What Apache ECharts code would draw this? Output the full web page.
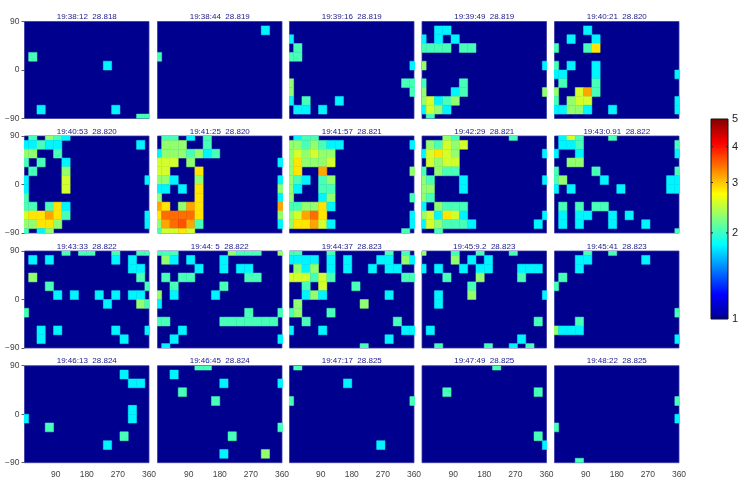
<!DOCTYPE html>
<html><head><meta charset="utf-8">
<style>html,body{margin:0;padding:0;background:#fff}#c{width:742px;height:483px}</style>
<script src="https://cdn.jsdelivr.net/npm/echarts@6/dist/echarts.min.js"></script>
</head><body><div id="c"></div>
<script>
// Cell centres of the map grid
const lons = [0,24,48,72,96,120,144,168,192,216,240,264,288,312,336,360];
const lats = [90,73.6,57.3,40.9,24.5,8.2,-8.2,-24.5,-40.9,-57.3,-73.6,-90];
// Read-off levels (colour bar value)
const c=1.8, m=2.05, g=2.3, l=2.55, y=2.85, f=3.15, o=3.45;
const titles = [
"19:38:12  28.818","19:38:44  28.819","19:39:16  28.819","19:39:49  28.819","19:40:21  28.820",
"19:40:53  28.820","19:41:25  28.820","19:41:57  28.821","19:42:29  28.821","19:43:0.91  28.822",
"19:43:33  28.822","19:44: 5  28.822","19:44:37  28.823","19:45:9.2  28.823","19:45:41  28.823",
"19:46:13  28.824","19:46:45  28.824","19:47:17  28.825","19:47:49  28.825","19:48:22  28.825"];
const xTicks = [90,180,270,360];
const yTicks = [-90,0,90];
const barTicks = [1,2,3,4,5];
// [lon index, lat index, value]
const p01=[[1,4,m],[10,5,c],[2,10,c],[11,10,c],[14,11,m],[15,11,m]];
const p02=[[13,1,c],[0,4,m]];
const p03=[[0,2,c],[1,3,m],[0,4,m],[1,4,m],[15,5,c],[0,7,g],[14,7,m],[15,7,m],[0,8,g],[15,8,m],[0,9,c],[2,9,m],[6,9,c],[1,10,c],[2,10,c],[4,10,c]];
const p04=[[2,1,c],[3,1,c],[0,2,c],[2,2,c],[4,2,c],[0,3,m],[1,3,m],[2,3,m],[3,3,m],[5,3,m],[6,3,m],[0,5,g],[15,5,c],[0,7,m],[5,7,m],[0,8,g],[4,8,c],[5,8,m],[15,8,g],[0,9,g],[1,9,l],[2,9,c],[3,9,m],[4,9,g],[0,10,c],[1,10,l],[2,10,g],[3,10,c],[1,11,m]];
const p05=[[4,1,c],[2,2,c],[5,2,c],[0,3,m],[4,3,m],[5,3,y],[0,5,m],[2,5,c],[5,5,c],[0,6,c],[1,6,c],[5,6,c],[15,6,c],[1,7,m],[5,7,m],[0,8,g],[3,8,l],[4,8,f],[5,8,m],[0,9,m],[2,9,g],[3,9,l],[4,9,l],[15,9,c],[0,10,c],[1,10,c],[2,10,g],[3,10,g],[4,10,c],[7,10,c],[15,10,c]];
const p06=[[1,0,m],[3,0,g],[4,0,m],[5,0,c],[0,1,c],[1,1,c],[2,1,m],[3,1,c],[4,1,c],[14,1,c],[0,2,g],[1,2,g],[4,2,m],[0,3,m],[2,3,m],[5,3,c],[1,4,m],[5,4,g],[0,5,c],[5,5,l],[15,5,c],[0,6,c],[5,6,l],[0,7,m],[0,8,m],[1,8,m],[3,8,m],[4,8,y],[5,8,c],[0,9,l],[1,9,y],[2,9,y],[3,9,f],[4,9,y],[5,9,m],[15,9,c],[0,10,g],[1,10,g],[2,10,y],[3,10,y],[4,10,g],[15,10,c],[0,11,m],[2,11,c],[3,11,g]];
const p07=[[1,0,m],[2,0,m],[4,0,c],[6,0,m],[1,1,g],[2,1,g],[3,1,g],[6,1,m],[0,2,c],[1,2,g],[2,2,g],[3,2,g],[4,2,m],[5,2,g],[6,2,c],[7,2,m],[0,3,l],[1,3,l],[2,3,l],[4,3,g],[15,3,c],[0,4,l],[1,4,l],[5,4,y],[0,5,g],[1,5,g],[2,5,c],[5,5,g],[15,5,c],[0,6,c],[1,6,c],[3,6,c],[5,6,y],[15,6,g],[0,7,g],[5,7,y],[15,7,c],[0,8,f],[1,8,y],[3,8,g],[4,8,f],[5,8,y],[15,8,f],[0,9,y],[1,9,o],[2,9,o],[3,9,o],[4,9,o],[5,9,y],[15,9,g],[0,10,g],[1,10,f],[2,10,o],[3,10,3.6],[4,10,f],[5,10,m],[15,10,c],[0,11,m],[1,11,l],[2,11,l],[3,11,y],[4,11,l]];
const p08=[[1,0,c],[2,0,m],[3,0,m],[0,1,g],[1,1,g],[2,1,m],[3,1,g],[4,1,m],[5,1,c],[6,1,c],[15,1,c],[0,2,g],[1,2,l],[2,2,g],[3,2,l],[4,2,g],[5,2,g],[0,3,g],[1,3,y],[2,3,g],[3,3,g],[4,3,g],[5,3,l],[0,4,g],[1,4,y],[4,4,f],[15,4,g],[0,5,g],[1,5,m],[2,5,c],[4,5,m],[5,5,g],[0,6,g],[1,6,c],[4,6,m],[5,6,m],[0,7,g],[4,7,c],[5,7,g],[15,7,m],[0,8,m],[1,8,m],[2,8,g],[3,8,g],[4,8,y],[5,8,c],[0,9,g],[1,9,l],[2,9,f],[3,9,o],[4,9,y],[15,9,c],[0,10,g],[1,10,y],[2,10,y],[3,10,f],[4,10,l],[5,10,c],[15,10,c],[14,11,m]];
const p09=[[3,0,g],[4,0,m],[11,0,m],[1,1,g],[2,1,m],[3,1,l],[4,1,g],[5,1,l],[0,2,c],[1,2,l],[2,2,y],[3,2,l],[4,2,g],[15,2,c],[1,3,l],[2,3,g],[3,3,l],[4,3,l],[0,4,m],[2,4,g],[3,4,m],[4,4,m],[0,5,g],[1,5,m],[5,5,c],[15,5,c],[0,6,g],[1,6,g],[5,6,c],[0,7,g],[1,7,m],[0,8,c],[2,8,g],[3,8,m],[4,8,m],[5,8,m],[0,9,g],[1,9,l],[2,9,c],[3,9,y],[4,9,l],[5,9,c],[15,9,c],[0,10,c],[1,10,l],[2,10,g],[3,10,m],[4,10,m],[5,10,m],[6,10,c],[14,10,c],[2,11,m]];
const p10=[[1,0,c],[2,0,l],[3,0,m],[7,0,m],[1,1,c],[2,1,c],[3,1,m],[15,1,m],[0,2,c],[3,2,c],[15,2,c],[2,3,g],[3,3,g],[0,4,m],[5,4,m],[15,4,m],[0,5,m],[1,5,g],[6,5,c],[14,5,c],[15,5,c],[0,6,c],[2,6,c],[8,6,c],[14,6,c],[15,6,c],[1,8,m],[3,8,m],[5,8,m],[6,8,m],[1,9,c],[3,9,c],[4,9,c],[7,9,c],[9,9,c],[1,10,c],[3,10,c],[7,10,c],[11,10,c],[15,11,m]];
const p11=[[5,0,m],[7,0,m],[8,0,m],[11,0,m],[14,0,m],[15,0,m],[1,1,c],[3,1,c],[11,1,c],[13,1,c],[13,2,c],[14,2,c],[1,3,g],[14,3,m],[3,4,m],[15,4,m],[4,5,c],[6,5,c],[9,5,c],[11,5,c],[13,5,c],[14,5,c],[10,6,c],[14,6,g],[15,6,m],[0,7,m],[2,9,c],[4,9,c],[11,9,c],[15,9,c],[2,10,c],[12,10,c]];
const p12=[[0,0,m],[1,0,m],[2,0,m],[9,0,g],[10,0,m],[11,0,m],[12,0,m],[15,0,g],[1,1,g],[2,1,c],[4,1,c],[8,1,c],[5,2,c],[8,2,c],[10,2,c],[11,2,c],[1,3,m],[3,3,m],[4,3,m],[11,3,m],[12,3,m],[2,4,m],[8,4,m],[0,5,g],[2,5,c],[7,5,c],[0,6,c],[11,7,m],[15,7,m],[0,8,m],[1,8,m],[8,8,m],[9,8,m],[10,8,m],[11,8,m],[12,8,m],[13,8,m],[14,8,m],[3,9,c],[2,10,c],[15,10,c],[1,11,c]];
const p13=[[0,0,m],[1,0,m],[5,0,m],[12,0,m],[14,0,m],[0,1,c],[1,1,c],[2,1,c],[3,1,c],[5,1,c],[7,1,c],[11,1,c],[12,1,c],[14,1,g],[15,1,c],[1,2,g],[2,2,c],[3,2,g],[5,2,c],[7,2,c],[10,2,c],[12,2,c],[13,2,c],[0,3,l],[1,3,l],[2,3,l],[3,3,m],[4,3,l],[5,3,m],[14,3,m],[15,3,m],[2,4,m],[4,4,l],[8,4,m],[2,5,c],[3,5,g],[4,5,c],[12,5,c],[1,6,g],[9,6,g],[0,7,m],[1,7,g],[5,7,m],[2,8,m],[13,8,m],[0,9,c],[4,9,c],[14,9,c],[15,9,c],[12,10,c],[9,11,m]];
const p14=[[0,0,g],[4,0,m],[7,0,m],[11,0,m],[4,1,g],[6,1,c],[8,1,c],[0,2,c],[2,2,c],[5,2,c],[7,2,c],[8,2,c],[12,2,c],[13,2,c],[14,2,c],[3,3,m],[7,3,g],[12,3,m],[6,4,m],[2,5,c],[6,5,g],[15,5,c],[2,6,c],[14,8,m],[1,9,c],[12,10,c],[2,11,m],[8,11,m],[11,11,c],[13,11,m]];
const p15=[[4,0,m],[7,0,m],[3,1,c],[4,1,c],[11,1,c],[3,2,c],[1,3,m],[0,4,m],[15,7,m],[3,8,m],[0,9,g],[1,9,c],[2,9,c],[3,9,c],[15,10,c]];
const p16=[[12,1,c],[13,2,c],[14,2,c],[13,5,c],[13,6,c],[0,6,c],[3,7,m],[12,8,m],[10,9,c]];
const p17=[[5,0,m],[6,0,m],[2,1,c],[8,2,c],[15,2,c],[3,3,m],[7,4,m],[15,7,m],[9,8,m],[8,10,c],[13,10,g]];
const p18=[[1,0,m],[7,2,c],[0,4,m],[15,4,m],[11,9,c]];
const p19=[[9,0,m],[3,3,m],[14,3,m],[14,8,m],[15,9,c]];
const p20=[[15,4,m],[15,6,c],[0,7,m],[3,11,m]];
const panels=[p01,p02,p03,p04,p05,p06,p07,p08,p09,p10,p11,p12,p13,p14,p15,p16,p17,p18,p19,p20];

// Layout (pixels)
const lefts=[24.5,157.5,289.5,422,554.5], tops=[21.5,136,251,365.7], W=124.5, H=97;
const jetStops=[[0,'#00008f'],[0.125,'#0000ff'],[0.375,'#00ffff'],[0.625,'#ffff00'],[0.875,'#ff0000'],[1,'#800000']];
function hex(h){return [1,3,5].map(i=>parseInt(h.substr(i,2),16));}
function jet(v){
  const t=Math.log(v)/Math.log(5);
  for(let i=1;i<jetStops.length;i++){
    if(t<=jetStops[i][0]){
      const a=hex(jetStops[i-1][1]),b=hex(jetStops[i][1]),k=(t-jetStops[i-1][0])/(jetStops[i][0]-jetStops[i-1][0]);
      return 'rgb('+a.map((x,j)=>Math.round(x+(b[j]-x)*k)).join(',')+')';
    }
  }
  return jetStops[jetStops.length-1][1];
}
const font='"Liberation Sans",Arial,sans-serif', lonStep=lons[1]-lons[0], latStep=lats[0]-lats[1];
const grid=[],xAxis=[],yAxis=[],series=[],title=[];
panels.forEach((p,i)=>{
  const col=i%5,row=Math.floor(i/5);
  grid.push({left:lefts[col],top:tops[row],width:W,height:H,show:true,backgroundColor:'#00008f',borderColor:'#3a3aa0',borderWidth:0.8});
  title.push({text:titles[i],left:lefts[col]+W/2,top:tops[row]-8.5,textAlign:'center',padding:0,textStyle:{color:'#1a1a8c',fontSize:8,fontWeight:'normal',fontFamily:font}});
  xAxis.push({gridIndex:i,type:'value',min:0,max:360,interval:90,axisLine:{show:false},axisTick:{show:false},splitLine:{show:false},
    axisLabel:{show:row===3,fontSize:8.5,color:'#444',fontFamily:font,margin:7,customValues:xTicks}});
  yAxis.push({gridIndex:i,type:'value',min:-90,max:90,interval:90,axisLine:{show:false},splitLine:{show:false},
    axisTick:{show:col===0,length:3,lineStyle:{color:'#333',width:0.8},customValues:yTicks},
    axisLabel:{show:col===0,fontSize:8.5,color:'#444',fontFamily:font,margin:5,customValues:yTicks,formatter:v=>v<0?'\u2212'+(-v):''+v}});
  series.push({type:'custom',coordinateSystem:'cartesian2d',xAxisIndex:i,yAxisIndex:i,clip:true,silent:true,
    data:p.map(d=>[lons[d[0]],lats[d[1]],d[2]]),
    encode:{x:0,y:1},
    renderItem:(params,api)=>{
      const pt=api.coord([api.value(0),api.value(1)]),s=api.size([lonStep,latStep]),col=jet(api.value(2));
      return {type:'rect',shape:{x:pt[0]-s[0]/2,y:pt[1]-s[1]/2,width:s[0],height:s[1]},style:{fill:col,stroke:col,lineWidth:0.5}};
    }});
});
// Colour bar
const b=panels.length;
grid.push({left:711,top:119,width:17,height:200,show:false});
xAxis.push({gridIndex:b,type:'value',min:0,max:1,show:false});
yAxis.push({gridIndex:b,type:'log',logBase:5,min:1,max:5,position:'right',splitLine:{show:false},
  axisLine:{show:false},
  axisTick:{show:false},
  axisLabel:{fontSize:11,color:'#222',fontFamily:font,margin:4,customValues:barTicks,formatter:v=>''+Math.round(v)}});
series.push({type:'custom',coordinateSystem:'cartesian2d',xAxisIndex:b,yAxisIndex:b,silent:true,clip:false,
  data:[[0,1,1,5]],encode:{x:0,y:1},
  renderItem:(params,api)=>{
    const p0=api.coord([0,1]),p1=api.coord([1,5]);
    const kids=[{type:'rect',shape:{x:p0[0],y:p1[1],width:p1[0]-p0[0],height:p0[1]-p1[1]},
      style:{fill:new echarts.graphic.LinearGradient(0,1,0,0,jetStops.map(s=>({offset:s[0],color:s[1]}))),stroke:'#111',lineWidth:1}}];
    barTicks.slice(1,4).forEach(v=>{
      const q=api.coord([0,v]);
      kids.push({type:'line',shape:{x1:p0[0],y1:q[1],x2:p0[0]+2,y2:q[1]},style:{stroke:'#222',lineWidth:1}});
      kids.push({type:'line',shape:{x1:p1[0]-2,y1:q[1],x2:p1[0],y2:q[1]},style:{stroke:'#222',lineWidth:1}});
    });
    return {type:'group',children:kids};
  }});
const chart=echarts.init(document.getElementById('c'),null,{renderer:'canvas'});
chart.setOption({animation:false,backgroundColor:'#fff',title,grid,xAxis,yAxis,series});
</script></body></html>
